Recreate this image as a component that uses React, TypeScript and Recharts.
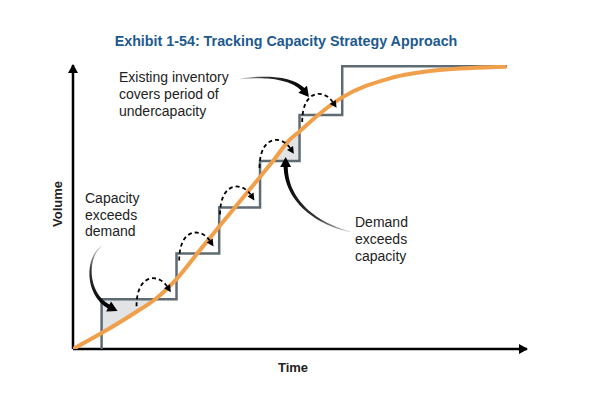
import React from "react";
import { Area, ComposedChart, Line, ReferenceDot, ReferenceLine, XAxis, YAxis } from "recharts";

// demand curve (time 0-100, volume 0-100)
const demandTime = [0, 6.3, 14.0, 18.1, 22.9, 28.0, 32.2, 41.2, 44.1, 47.8, 49.9, 54.0, 59.2, 69.8, 80.8, 95.5];
const demandVolume = [0, 5.6, 13.1, 17.5, 24.8, 34.9, 43.1, 60.6, 66.3, 73.8, 76.6, 82.4, 88.5, 95.3, 98.2, 99.4];

// capacity steps: where each increase happens, and the level held after it
const capacityEdges = [6.3, 22.8, 32.2, 41.2, 49.9, 59.3, 95.6];
const capacityLevels = [17.5, 33.6, 49.8, 66.2, 82.4, 99.6];

// shaded gaps: capacity above demand (first step), demand above capacity (fourth step)
const surplusTime = [6.3, 14.0, 18.1];
const shortfallTime = [44.1, 47.8, 49.9];

const FONT = '"Liberation Sans", Arial, Helvetica, sans-serif';
const ORANGE = "#F0A04B";
const STEEL = "#5F6B73";

const demandAt = (t: number) => demandVolume[demandTime.indexOf(t)];

const demandData = demandTime.map((t, i) => ({ t, v: demandVolume[i] }));
const capacityData = [
  { t: capacityEdges[0], v: 0 },
  ...capacityLevels.map((v, i) => ({ t: capacityEdges[i + 1], v }))
];
const surplusData = surplusTime.map((t) => ({ t, band: [demandAt(t), capacityLevels[0]] }));
const shortfallData = shortfallTime.map((t) => ({ t, band: [capacityLevels[3], demandAt(t)] }));
const arcAnchors = capacityLevels.slice(0, 5).map((v, i) => ({ t: capacityEdges[i + 1], v }));

type Pt = [number, number];

function head(tip: Pt, ang: number, len: number, half: number) {
  const c = Math.cos(ang);
  const s = Math.sin(ang);
  const bx = tip[0] - c * len;
  const by = tip[1] - s * len;
  return `M${tip[0]},${tip[1]} L${bx - s * half},${by + c * half} L${bx + s * half},${by - c * half} Z`;
}

function bez(p: Pt[], t: number): Pt {
  const u = 1 - t;
  const a = u * u * u, b = 3 * u * u * t, c = 3 * u * t * t, d = t * t * t;
  return [a * p[0][0] + b * p[1][0] + c * p[2][0] + d * p[3][0], a * p[0][1] + b * p[1][1] + c * p[2][1] + d * p[3][1]];
}

// thin-to-thick curved pointer ending in a solid head
function Pointer({ cx, cy, pts, id }: { cx: number; cy: number; pts: Pt[]; id: string }) {
  const p = pts.map(([x, y]) => [cx + x, cy + y] as Pt);
  const n = 30;
  const left: Pt[] = [];
  const right: Pt[] = [];
  for (let i = 0; i <= n; i++) {
    const t = i / n;
    const a = bez(p, Math.max(0, t - 0.01));
    const b = bez(p, Math.min(1, t + 0.01));
    const m = bez(p, t);
    const dx = b[0] - a[0], dy = b[1] - a[1];
    const l = Math.hypot(dx, dy) || 1;
    const w = 0.35 + 1.75 * t;
    left.push([m[0] - (dy / l) * w, m[1] + (dx / l) * w]);
    right.push([m[0] + (dy / l) * w, m[1] - (dx / l) * w]);
  }
  const body = "M" + left.map((q) => q.join(",")).join(" L") + " L" + right.reverse().map((q) => q.join(",")).join(" L") + " Z";
  const ang = Math.atan2(p[3][1] - p[2][1], p[3][0] - p[2][0]);
  const tip: Pt = [p[3][0] + Math.cos(ang) * 8, p[3][1] + Math.sin(ang) * 8];
  return (
    <g>
      <defs>
        <linearGradient id={id} gradientUnits="userSpaceOnUse" x1={p[0][0]} y1={p[0][1]} x2={p[3][0]} y2={p[3][1]}>
          <stop offset="0" stopColor="#d0d0d0" />
          <stop offset="0.35" stopColor="#333" />
          <stop offset="1" stopColor="#000" />
        </linearGradient>
      </defs>
      <path d={body} fill={`url(#${id})`} />
      <path d={head(tip, ang, 10, 5.5)} fill="#000" />
    </g>
  );
}

// dashed hop drawn just left of a step's right corner
function Hop({ cx, cy }: { cx: number; cy: number }) {
  const s: Pt = [cx - 40, cy + 7];
  const c1: Pt = [cx - 40, cy - 26];
  const c2: Pt = [cx - 18, cy - 26];
  const e: Pt = [cx - 9.5, cy - 13];
  const ang = Math.atan2(e[1] - c2[1], e[0] - c2[0]);
  const tip: Pt = [e[0] + Math.cos(ang) * 7, e[1] + Math.sin(ang) * 7];
  return (
    <g>
      <path d={`M${s} C${c1} ${c2} ${e}`} fill="none" stroke="#000" strokeWidth={1.8} strokeDasharray="4 3" />
      <path d={head(tip, ang, 7, 3.6)} fill="#000" />
    </g>
  );
}

const textStyle: React.CSSProperties = {
  position: "absolute",
  fontSize: 14,
  lineHeight: "17px",
  color: "#222",
  whiteSpace: "nowrap"
};

export default function App() {
  return (
    <div style={{ position: "absolute", left: 0, top: 0, width: 595, height: 394, background: "#fff", fontFamily: FONT }}>
      <ComposedChart width={595} height={394} margin={{ top: 65, right: 68, bottom: 45, left: 73 }}>
        <XAxis type="number" dataKey="t" domain={[0, 100]} hide allowDataOverflow />
        <YAxis type="number" domain={[0, 100]} hide allowDataOverflow />
        <Area data={surplusData} dataKey="band" type="monotone" fill="#E1E3E5" fillOpacity={1} stroke="none" isAnimationActive={false} />
        <Area data={shortfallData} dataKey="band" type="monotone" fill="#E1E3E5" fillOpacity={1} stroke="none" isAnimationActive={false} />
        <ReferenceLine segment={[{ x: 0, y: 0 }, { x: 100, y: 0 }]} stroke="#000" strokeWidth={2.5} ifOverflow="visible" />
        <ReferenceLine segment={[{ x: 0, y: 0 }, { x: 0, y: 100 }]} stroke="#000" strokeWidth={2.5} ifOverflow="visible" />
        <Line data={capacityData} dataKey="v" type="stepBefore" stroke={STEEL} strokeWidth={2.5} dot={false} isAnimationActive={false} />
        <Line data={demandData} dataKey="v" type="monotone" stroke={ORANGE} strokeWidth={4} dot={false} isAnimationActive={false} />
        {arcAnchors.map((a, i) => (
          <ReferenceDot key={i} x={a.t} y={a.v} ifOverflow="visible" shape={(p: any) => <Hop cx={p.cx} cy={p.cy} />} />
        ))}
        <ReferenceDot
          x={capacityEdges[0]}
          y={capacityLevels[0]}
          ifOverflow="visible"
          shape={(p: any) => <Pointer id="pt1" cx={p.cx} cy={p.cy} pts={[[0, -53], [-16, -42], [-16, -4], [8.8, 8.1]]} />}
        />
        <ReferenceDot
          x={capacityEdges[4]}
          y={capacityLevels[4]}
          ifOverflow="visible"
          shape={(p: any) => <Pointer id="pt2" cx={p.cx} cy={p.cy} pts={[[-59.5, -36], [-30, -40], [-5, -36], [4.4, -24.2]]} />}
        />
        <ReferenceDot
          x={capacityEdges[4]}
          y={capacityLevels[3]}
          ifOverflow="visible"
          shape={(p: any) => <Pointer id="pt3" cx={p.cx} cy={p.cy} pts={[[50.5, 70.7], [25, 65], [-14, 45], [-13.9, 3.9]]} />}
        />
        <ReferenceDot
          x={100}
          y={0}
          ifOverflow="visible"
          shape={(p: any) => <path d={head([p.cx + 1, p.cy], 0, 9, 5)} fill="#000" />}
        />
        <ReferenceDot
          x={0}
          y={100}
          ifOverflow="visible"
          shape={(p: any) => <path d={head([p.cx, p.cy - 1], -Math.PI / 2, 9, 5)} fill="#000" />}
        />
      </ComposedChart>

      <div style={{ position: "absolute", left: 0, width: 572, top: 33, textAlign: "center", fontSize: 14.3, lineHeight: "17px", fontWeight: 700, color: "#1D5A8E" }}>
        Exhibit 1-54: Tracking Capacity Strategy Approach
      </div>
      <div style={{ ...textStyle, left: 119, top: 69 }}>
        Existing inventory
        <br />
        covers period of
        <br />
        undercapacity
      </div>
      <div style={{ ...textStyle, left: 85, top: 190, lineHeight: "16.5px" }}>
        Capacity
        <br />
        exceeds
        <br />
        demand
      </div>
      <div style={{ ...textStyle, left: 355, top: 214 }}>
        Demand
        <br />
        exceeds
        <br />
        capacity
      </div>
      <div style={{ position: "absolute", left: 253, width: 80, top: 360, textAlign: "center", fontSize: 13, lineHeight: "16px", fontWeight: 700, color: "#222" }}>
        Time
      </div>
      <div
        style={{
          position: "absolute",
          left: 18,
          top: 196,
          width: 80,
          textAlign: "center",
          fontSize: 13,
          lineHeight: "16px",
          fontWeight: 700,
          color: "#222",
          transform: "rotate(-90deg)"
        }}
      >
        Volume
      </div>
    </div>
  );
}
